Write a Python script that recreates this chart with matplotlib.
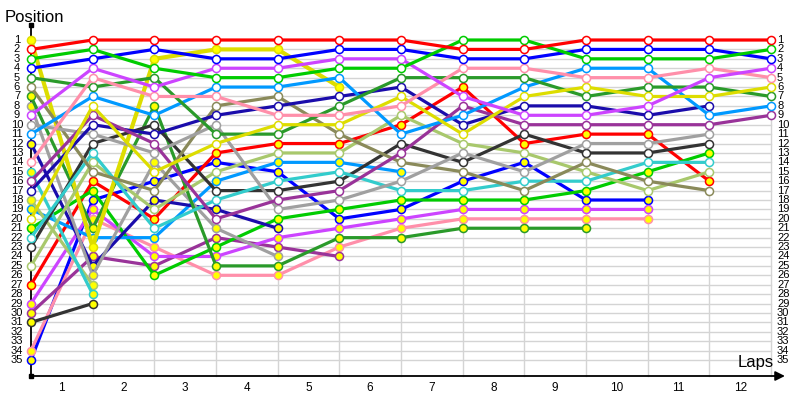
import matplotlib
matplotlib.use("Agg")
import matplotlib.pyplot as plt

# positions per lap (index 0 = start grid), list ends when the car stops
red = [2, 1, 1, 1, 1, 1, 1, 2, 2, 1, 1, 1, 1]
green = [3, 2, 4, 5, 5, 4, 4, 1, 1, 3, 3, 3, 2]
blue = [4, 3, 2, 3, 3, 2, 2, 3, 3, 2, 2, 2, 3]
dkgreen = [5, 6, 5, 11, 11, 8, 5, 5, 5, 7, 6, 6, 7]
olive = [6, 15, 17, 8, 7, 11, 14, 15, 17, 14, 16, 17]
magenta = [9, 4, 6, 4, 4, 3, 3, 7, 9, 9, 8, 5, 4]
gray = [10, 11, 13, 10, 19, 18, 16, 13, 15, 12, 12, 11]
ltblue = [11, 7, 9, 6, 6, 5, 11, 9, 6, 4, 4, 9, 8]
pink = [14, 5, 7, 7, 9, 9, 8, 4, 4, 5, 5, 4, 5]
purple = [16, 9, 12, 20, 18, 17, 13, 8, 10, 10, 10, 10, 9]
navy = [17, 10, 11, 9, 8, 7, 6, 10, 8, 8, 9, 8]
yellow = [20, 8, 15, 12, 10, 10, 7, 11, 7, 6, 7, 7, 6]
cyan = [22, 13, 21, 18, 16, 15, 17, 17, 16, 16, 14, 14]
black = [23, 12, 10, 17, 17, 16, 12, 14, 11, 13, 13, 12]
ltgreen = [25, 14, 19, 15, 13, 13, 9, 12, 13, 15, 17, 15]

# second class (yellow markers)
yellow_b = [1, 23, 3, 2, 2, 6]
dkgreen_b = [7, 21, 8, 25, 25, 22, 22, 21, 21, 21]
gray_b = [8, 26, 14, 21, 24]
navy_b = [12, 25, 18, 19, 21]
cyan_b = [15, 28]
ltgreen_b = [18, 27]
ltblue_b = [19, 22, 22, 16, 14, 14, 15]
green_b = [21, 17, 26, 23, 20, 19, 18, 18, 18, 17, 15, 13]
red_b = [27, 16, 20, 13, 12, 12, 10, 6, 12, 11, 11, 16]
magenta_b = [29, 19, 24, 24, 22, 21, 20, 19, 19, 19, 19]
purple_b = [30, 24, 25, 22, 23, 24]
black_b = [31, 29]
pink_b = [34, 20, 23, 26, 26, 23, 21, 20, 20, 20, 20]
blue_b = [35, 18, 16, 14, 15, 20, 19, 16, 14, 18, 18]

laps = list(range(1, 13))
positions = list(range(1, 36))

C = {'red': '#ff0000', 'green': '#00cc00', 'blue': '#0000ff', 'dkgreen': '#2a9a2a',
     'olive': '#8a8a5a', 'magenta': '#cc44ff', 'gray': '#a0a0a0', 'ltblue': '#0099ff',
     'pink': '#ff8faa', 'purple': '#993399', 'navy': '#1a0cab', 'yellow': '#dddd00',
     'cyan': '#33cccc', 'black': '#333333', 'ltgreen': '#a8c86c'}

cars = [
    (blue_b, 'blue', 1), (pink_b, 'pink', 1), (black_b, 'black', 1), (purple_b, 'purple', 1),
    (magenta_b, 'magenta', 1), (red_b, 'red', 1), (green_b, 'green', 1), (ltblue_b, 'ltblue', 1),
    (ltgreen_b, 'ltgreen', 1), (cyan_b, 'cyan', 1), (navy_b, 'navy', 1), (gray_b, 'gray', 1),
    (dkgreen_b, 'dkgreen', 1), (yellow_b, 'yellow', 1),
    (ltgreen, 'ltgreen', 0), (black, 'black', 0), (cyan, 'cyan', 0), (olive, 'olive', 0),
    (gray, 'gray', 0), (navy, 'navy', 0), (purple, 'purple', 0), (ltblue, 'ltblue', 0),
    (dkgreen, 'dkgreen', 0), (yellow, 'yellow', 0), (pink, 'pink', 0), (magenta, 'magenta', 0),
    (blue, 'blue', 0), (green, 'green', 0), (red, 'red', 0),
]

# pixel geometry of the original: lap k at x = 31 + 61.67 k, position p at y = 40 + 9.412 (p - 1)
dx, dy = 61.67, 9.412
fig = plt.figure(figsize=(8, 4), dpi=100)
ax = fig.add_axes([0, 0, 1, 1])
ax.set_xlim(-31 / dx, (800 - 31) / dx)
ax.set_ylim(1 + 360 / dy, 1 - 40 / dy)
ax.axis('off')

ybot = 1 + 336 / dy
for p in positions:
    ax.plot([0, 12], [p, p], color='#d4d4d4', lw=1, zorder=0)
for k in laps:
    ax.plot([k, k], [1, ybot], color='#d4d4d4', lw=1, zorder=0)

for vals, col, cls in cars:
    xs = list(range(len(vals)))
    lw = 3 if vals is yellow_b else 2.3
    ax.plot(xs, vals, color=C[col], lw=lw, zorder=2, solid_capstyle='round',
            marker='o', ms=5.8, mew=1.1, mec=C[col], mfc='#ffff00' if cls else 'white')

# axes with arrows
ax.plot([0, 0], [ybot, 1 - 15 / dy], color='black', lw=1.3, zorder=1)
ax.plot([0], [1 - 15 / dy], marker='s', ms=2.5, color='black')
ax.plot([0], [ybot], marker='s', ms=2.5, color='black')
ax.annotate('', xy=(12.27, ybot), xytext=(0, ybot),
            arrowprops=dict(arrowstyle='-|>', color='black', lw=1.3, mutation_scale=14))

fnt = ['Liberation Sans', 'DejaVu Sans']
for p in positions:
    ax.text(-14 / dx, p, str(p), ha='center', va='center', fontsize=8, family=fnt)
    ax.text(12 + 6 / dx, p, str(p), ha='left', va='center', fontsize=8, family=fnt)
for k in laps:
    ax.text(k - 0.5, 1 + 348 / dy, str(k), ha='center', va='center', fontsize=8.5, family=fnt)

ax.text(-26 / dx, 1 - 18.5 / dy, 'Position', ha='left', va='baseline', fontsize=12, family=fnt)
ax.text(12 + 3 / dx, 1 + 327 / dy, 'Laps', ha='right', va='baseline', fontsize=12, family=fnt)

fig.savefig('out.png', dpi=100)
